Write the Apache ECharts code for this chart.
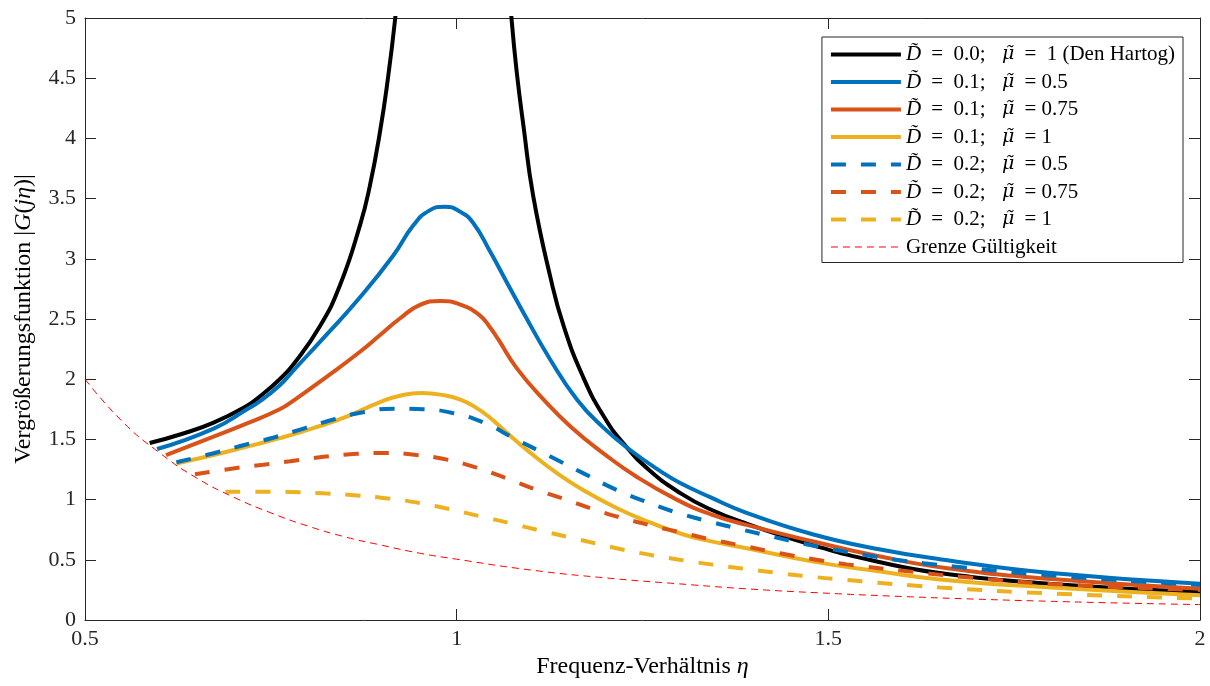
<!DOCTYPE html>
<html>
<head>
<meta charset="utf-8">
<script src="https://cdn.jsdelivr.net/npm/echarts@6/dist/echarts.min.js"></script>
<style>html,body{margin:0;padding:0;background:#fff}#c{width:1210px;height:686px}</style>
</head>
<body>
<div id="c"></div>
<script>
// ---- data (eta, |G|) ----
const names = [
  'D̃ = 0.0;  μ̃ = 1 (Den Hartog)',
  'D̃ = 0.1;  μ̃ =0.5',
  'D̃ = 0.1;  μ̃ =0.75',
  'D̃ = 0.1;  μ̃ =1',
  'D̃ = 0.2;  μ̃ =0.5',
  'D̃ = 0.2;  μ̃ =0.75',
  'D̃ = 0.2;  μ̃ =1',
  'Grenze Gültigkeit'
];
const xTicks = [0.5, 1, 1.5, 2];
const yTicks = [0, 0.5, 1, 1.5, 2, 2.5, 3, 3.5, 4, 4.5, 5];

const blackD00 = [[0.587,1.47],[0.630,1.545],[0.673,1.64],[0.718,1.78],[0.736,1.86],[0.762,2.0],[0.780,2.12],[0.816,2.44],[0.843,2.78],[0.870,3.28],[0.883,3.6],[0.897,4.06],[0.908,4.52],[0.917,4.98],[0.925,5.5],[1.0,'-'],[1.068,5.5],[1.074,4.98],[1.081,4.54],[1.090,4.097],[1.103,3.52],[1.126,2.85],[1.144,2.44],[1.170,2.02],[1.197,1.70],[1.224,1.47],[1.260,1.24],[1.302,1.05],[1.341,0.92],[1.39,0.80],[1.48,0.62],[1.57,0.48],[1.65,0.39],[1.80,0.30],[2.0,0.233]];
const blueD01 = [[0.597,1.42],[0.673,1.59],[0.718,1.75],[0.736,1.82],[0.762,1.95],[0.780,2.07],[0.825,2.37],[0.870,2.68],[0.915,3.03],[0.942,3.28],[0.963,3.40],[0.984,3.433],[1.005,3.39],[1.022,3.30],[1.045,3.06],[1.067,2.81],[1.090,2.55],[1.126,2.162],[1.162,1.83],[1.197,1.60],[1.233,1.414],[1.278,1.22],[1.30,1.14],[1.341,1.02],[1.39,0.89],[1.48,0.71],[1.57,0.585],[1.65,0.505],[1.80,0.39],[2.0,0.302]];
const orangeD01 = [[0.609,1.37],[0.673,1.523],[0.718,1.633],[0.762,1.75],[0.780,1.82],[0.825,2.02],[0.870,2.228],[0.897,2.367],[0.924,2.506],[0.950,2.615],[0.978,2.65],[1.005,2.62],[1.031,2.53],[1.045,2.43],[1.056,2.33],[1.081,2.09],[1.117,1.83],[1.153,1.608],[1.197,1.386],[1.242,1.19],[1.296,1.0],[1.341,0.88],[1.39,0.79],[1.48,0.652],[1.57,0.527],[1.66,0.43],[1.80,0.34],[2.0,0.26]];
const yellowD01 = [[0.623,1.30],[0.673,1.37],[0.718,1.44],[0.762,1.51],[0.807,1.593],[0.852,1.69],[0.897,1.81],[0.925,1.865],[0.953,1.885],[0.980,1.87],[1.005,1.83],[1.027,1.76],[1.045,1.68],[1.063,1.58],[1.099,1.39],[1.135,1.22],[1.170,1.08],[1.215,0.93],[1.26,0.81],[1.305,0.71],[1.341,0.655],[1.39,0.596],[1.48,0.485],[1.57,0.402],[1.65,0.337],[1.80,0.27],[2.0,0.206]];
const blueD02 = [[0.623,1.31],[0.673,1.385],[0.709,1.445],[0.753,1.514],[0.794,1.59],[0.834,1.665],[0.874,1.725],[0.915,1.755],[0.955,1.75],[0.996,1.717],[1.036,1.64],[1.081,1.497],[1.126,1.358],[1.170,1.22],[1.215,1.081],[1.26,0.97],[1.30,0.885],[1.345,0.81],[1.386,0.748],[1.426,0.69],[1.466,0.635],[1.507,0.585],[1.547,0.543],[1.588,0.503],[1.628,0.472],[1.668,0.445],[1.80,0.37],[2.0,0.29]];
const orangeD02 = [[0.648,1.21],[0.695,1.255],[0.740,1.29],[0.776,1.318],[0.821,1.355],[0.866,1.38],[0.906,1.388],[0.946,1.37],[0.987,1.332],[1.027,1.265],[1.067,1.177],[1.108,1.081],[1.148,0.998],[1.184,0.92],[1.224,0.845],[1.265,0.78],[1.305,0.722],[1.345,0.665],[1.39,0.61],[1.435,0.555],[1.48,0.505],[1.525,0.462],[1.632,0.388],[1.677,0.36],[1.80,0.30],[2.0,0.25]];
const yellowD02 = [[0.689,1.066],[0.740,1.066],[0.776,1.064],[0.821,1.052],[0.866,1.035],[0.910,1.008],[0.951,0.97],[0.991,0.92],[1.031,0.862],[1.072,0.804],[1.112,0.743],[1.153,0.685],[1.193,0.627],[1.233,0.573],[1.274,0.527],[1.314,0.487],[1.358,0.449],[1.399,0.416],[1.444,0.382],[1.484,0.355],[1.525,0.333],[1.565,0.31],[1.61,0.289],[1.65,0.27],[1.80,0.22],[2.0,0.178]];
const grenze = [[0.5,2.0],[0.55,1.65],[0.6,1.39],[0.65,1.18],[0.7,1.02],[0.75,0.89],[0.8,0.78],[0.85,0.69],[0.9,0.62],[0.95,0.555],[1.0,0.505],[1.1,0.415],[1.2,0.35],[1.3,0.30],[1.4,0.255],[1.5,0.222],[1.6,0.195],[1.7,0.173],[1.8,0.155],[1.9,0.14],[2.0,0.128]];

const seriesData = [blackD00, blueD01, orangeD01, yellowD01, blueD02, orangeD02, yellowD02, grenze];
const colors = ['#000000','#0072BD','#D95319','#EDB120','#0072BD','#D95319','#EDB120','#FF0000'];
const widths = [4,4,4,4,4,4,4,1];
const dashes = ['solid','solid','solid','solid',[15,15],[15,15],[15,15],[7,5]];

const FONT = 'Liberation Serif';
const chart = echarts.init(document.getElementById('c'), null, {renderer:'canvas'});

const series = seriesData.map((d,i)=>({
  name: names[i], type:'line', data:d, showSymbol:false, symbol:'none',
  smooth:0.5, clip:true, connectNulls:false,
  lineStyle:{color:colors[i], width:widths[i], type:dashes[i], cap:'butt'},
  itemStyle:{color:colors[i]}, z: 2+i, animation:false
}));

const axisLineStyle = {color:'#262626', width:1};
const nameRich = {i:{fontFamily:FONT, fontSize:24, fontStyle:'italic', color:'#000'}};
chart.setOption({
  animation:false,
  backgroundColor:'#ffffff',
  grid:{left:85, right:10, top:18, bottom:66, containLabel:false, outerBoundsMode:'none'},
  legend:{
    orient:'vertical', right:27, top:37,
    backgroundColor:'#ffffff', borderColor:'#262626', borderWidth:1,
    padding:[7,8,5,7], itemWidth:70, itemHeight:14, itemGap:6.5,
    data:names,
    itemStyle:{color:'rgba(0,0,0,0)', borderWidth:0, opacity:0},
    lineStyle:{width:'inherit'},
    textStyle:{fontFamily:FONT, fontSize:21, color:'#000', lineHeight:20,
      rich:{
        i:{fontFamily:FONT, fontSize:21, fontStyle:'italic', color:'#000', lineHeight:20},
        m:{fontFamily:'DejaVu Serif', fontSize:19, fontStyle:'italic', color:'#000', lineHeight:20},
        e:{fontFamily:FONT, fontSize:21, color:'#000', padding:[0,5,0,5], lineHeight:20},
        g:{fontFamily:FONT, fontSize:21, color:'#000', padding:[0,6,0,0], lineHeight:20}
      }},
    formatter: n => n.replace(/D̃/g,'{i|D̃}').replace(/μ̃/g,'{m|μ̃}').replace(/=/g,'{e|=}').replace(/;/g,'{g|;}')
  },
  xAxis:[{
    type:'value', min:0.5, max:2, interval:0.5, position:'bottom',
    name:'Frequenz-Verhältnis {i|η}', nameLocation:'middle', nameGap:31,
    nameTextStyle:{fontFamily:FONT, fontSize:24, color:'#000', rich:nameRich},
    axisLine:{show:true, onZero:false, lineStyle:axisLineStyle},
    axisTick:{show:true, inside:true, length:11, lineStyle:axisLineStyle},
    axisLabel:{fontFamily:FONT, fontSize:22, color:'#262626', margin:8},
    splitLine:{show:false}
  },{
    type:'value', min:0.5, max:2, interval:0.5, position:'top',
    axisLine:{show:true, onZero:false, lineStyle:axisLineStyle},
    axisTick:{show:true, inside:true, length:11, lineStyle:axisLineStyle},
    axisLabel:{show:false}, splitLine:{show:false}
  }],
  yAxis:[{
    type:'value', min:0, max:5, interval:0.5, position:'left',
    name:'Vergrößerungsfunktion |{i|G}({i|jη})|', nameLocation:'middle', nameGap:49,
    nameTextStyle:{fontFamily:FONT, fontSize:24, color:'#000', rich:nameRich},
    axisLine:{show:true, onZero:false, lineStyle:axisLineStyle},
    axisTick:{show:true, inside:true, length:11, lineStyle:axisLineStyle},
    axisLabel:{fontFamily:FONT, fontSize:22, color:'#262626', margin:9},
    splitLine:{show:false}
  },{
    type:'value', min:0, max:5, interval:0.5, position:'right',
    axisLine:{show:true, onZero:false, lineStyle:axisLineStyle},
    axisTick:{show:true, inside:true, length:11, lineStyle:axisLineStyle},
    axisLabel:{show:false}, splitLine:{show:false}
  }],
  series: series
});
</script>
</body>
</html>
